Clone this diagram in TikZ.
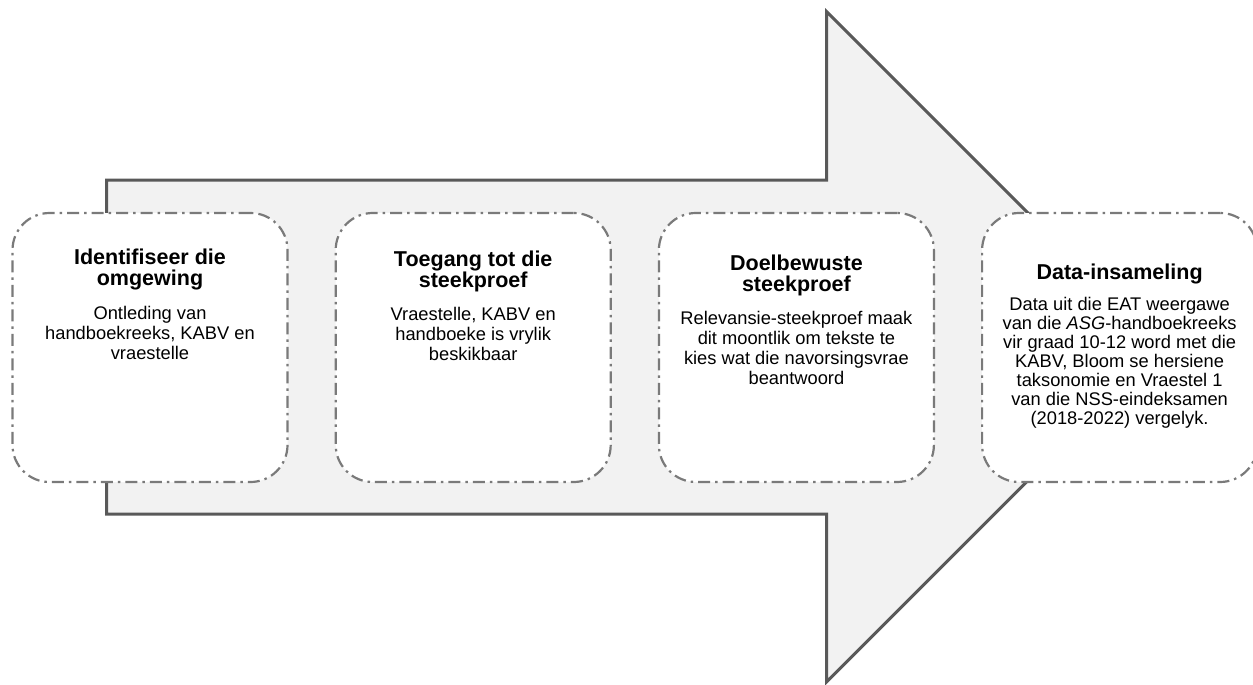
\documentclass[tikz,border=0pt]{standalone}
\usepackage{fontspec}
\setmainfont{Liberation Sans}
\usetikzlibrary{positioning}

\definecolor{arrowfill}{HTML}{F2F2F2}
\definecolor{arrowline}{HTML}{595959}
\definecolor{boxline}{HTML}{7A7A7A}

\tikzset{
  stepbox/.style={draw=boxline, fill=white, line width=2.2pt, rounded corners=37pt,
    dash pattern=on 12pt off 5pt on 2.5pt off 5pt,
    minimum width=275pt, minimum height=269pt, inner sep=0pt},
  steptitle/.style={align=center, inner sep=0pt, font=\fontsize{21.5}{20.7}\selectfont\bfseries},
  steptext/.style={align=center, inner sep=0pt, font=\fontsize{18.3}{20}\selectfont},
}

\begin{document}
\begin{tikzpicture}[x=1pt, y=-1pt]
    \useasboundingbox (0,0) rectangle (1253,685);

    % Big arrow
    \draw[arrowline, fill=arrowfill, line width=3pt, line join=miter]
        (106.7,180) -- (826.7,180) -- (826.7,11.7) -- (1161.7,346.7)
        -- (826.7,681.7) -- (826.7,514) -- (106.7,514) -- cycle;

    % Steps
    \node[stepbox] (b1) at (150,347.5) {};
    \node[stepbox, right=46pt of b1] (b2) {};
    \node[stepbox, right=46pt of b2] (b3) {};
    \node[stepbox, right=46pt of b3] (b4) {};

    \node[steptitle, below=37pt of b1.north] (t1) {Identifiseer die\\omgewing};
    \node[steptext, below=16pt of t1] (d1) {Ontleding van\\handboekreeks, KABV en\\vraestelle};

    \node[steptitle, below=39pt of b2.north] (t2) {Toegang tot die\\steekproef};
    \node[steptext, below=15pt of t2] (d2) {Vraestelle, KABV en\\handboeke is vrylik\\beskikbaar};

    \node[steptitle, below=43pt of b3.north] (t3) {Doelbewuste\\steekproef};
    \node[steptext, below=15pt of t3] (d3) {Relevansie-steekproef maak\\dit moontlik om tekste te\\kies wat die navorsingsvrae\\beantwoord};

    \node[steptitle, below=52pt of b4.north] (t4) {Data-insameling};
    \node[steptext, font=\fontsize{18.3}{19}\selectfont, below=13pt of t4] (d4) {Data uit die EAT weergawe\\van die \textit{ASG}-handboekreeks\\vir graad 10-12 word met die\\KABV, Bloom se hersiene\\taksonomie en Vraestel 1\\van die NSS-eindeksamen\\(2018-2022) vergelyk.};
\end{tikzpicture}
\end{document}
